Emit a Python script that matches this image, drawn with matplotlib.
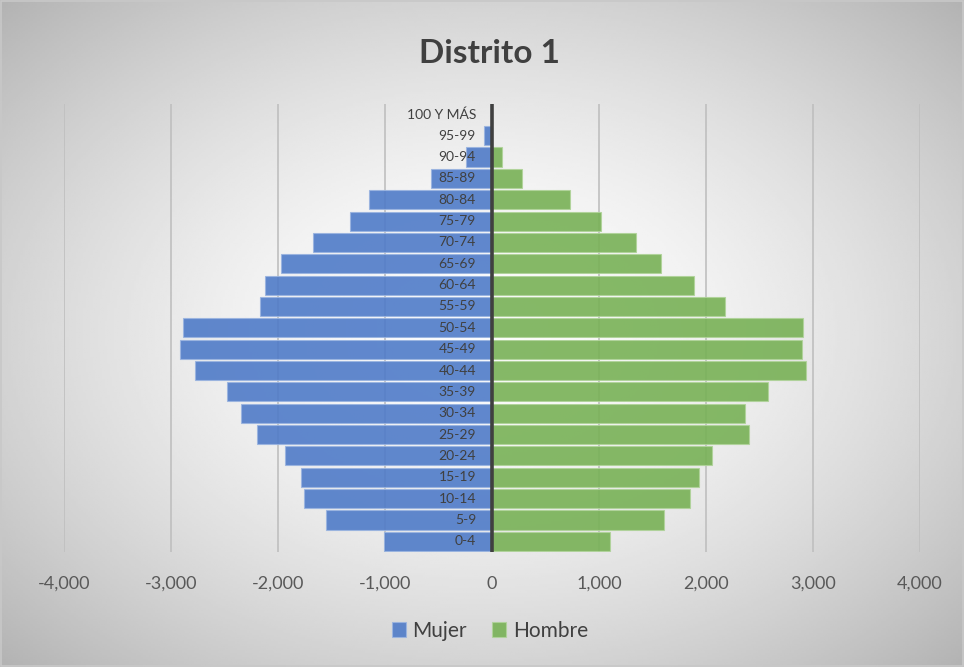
import numpy as np
import matplotlib.pyplot as plt
from matplotlib.ticker import FuncFormatter
from matplotlib.patches import Rectangle

plt.rcParams['font.family'] = ['Lato', 'DejaVu Sans']

grupos = ['0-4', '5-9', '10-14', '15-19', '20-24', '25-29', '30-34', '35-39',
          '40-44', '45-49', '50-54', '55-59', '60-64', '65-69', '70-74', '75-79',
          '80-84', '85-89', '90-94', '95-99', '100 Y MÁS']
mujer = [-1010, -1550, -1760, -1785, -1935, -2196, -2346, -2477, -2776, -2916,
         -2888, -2168, -2121, -1972, -1673, -1327, -1150, -570, -243, -75, -5]
hombre = [1103, 1607, 1850, 1930, 2056, 2400, 2364, 2579, 2935, 2897,
          2907, 2178, 1888, 1575, 1350, 1015, 729, 280, 93, 0, 0]
ticks = [-4000, -3000, -2000, -1000, 0, 1000, 2000, 3000, 4000]

fig = plt.figure(figsize=(9.64, 6.67), dpi=100)

# radial gray background like the Excel chart area
bg = fig.add_axes([0, 0, 1, 1], zorder=-10)
yy, xx = np.mgrid[0:1:300j, 0:1:400j]
r = np.sqrt(((xx - 0.5) / 0.75) ** 2 + ((yy - 0.5) / 0.75) ** 2)
shade = 1.0 - 0.33 * np.clip(r, 0, 1) ** 1.6
bg.imshow(shade, cmap='gray', vmin=0, vmax=1, extent=[0, 1, 0, 1], aspect='auto')
bg.add_patch(Rectangle((0.001, 0.001), 0.998, 0.997, fill=False, edgecolor='#c8c8c8', lw=1.2))
bg.axis('off')

ax = fig.add_axes([0.0664, 0.1725, 0.8880, 0.6720])
ax.patch.set_alpha(0)
y = np.arange(len(grupos))

ax.barh(y, mujer, height=0.9, color='#4f7bc8', alpha=0.9, edgecolor='#9ab4e0', lw=0.8,
        label='Mujer', zorder=2)
ax.barh(y, hombre, height=0.9, color='#78b156', alpha=0.9, edgecolor='#b0d39a', lw=0.8,
        label='Hombre', zorder=2)
ax.axvline(0, color='#404040', lw=2.6, zorder=4)

for i, g in enumerate(grupos):
    ax.text(-150, i, g, ha='right', va='center', fontsize=10, color='#404040', zorder=5)

ax.set_xlim(-4000, 4000)
ax.set_ylim(-0.5, len(grupos) - 0.5)
ax.set_xticks(ticks)
ax.xaxis.set_major_formatter(FuncFormatter(lambda v, p: f'{int(v):,}'))
ax.set_yticks([])
ax.grid(axis='x', color='#bfbfbf', lw=1.2, zorder=1)
ax.tick_params(axis='x', length=0, pad=17, labelsize=13, labelcolor='#595959')
for s in ax.spines.values():
    s.set_visible(False)

fig.text(0.508, 0.920, 'Distrito 1', ha='center', va='center', fontsize=24,
         fontweight='bold', color='#404040')

leg = fig.legend(loc='center', bbox_to_anchor=(0.508, 0.054), ncol=2, frameon=False,
                 fontsize=15, handlelength=0.7, handleheight=0.7, handletextpad=0.3,
                 columnspacing=1.2)
for t in leg.get_texts():
    t.set_color('#404040')

fig.savefig('out.png', dpi=100)
